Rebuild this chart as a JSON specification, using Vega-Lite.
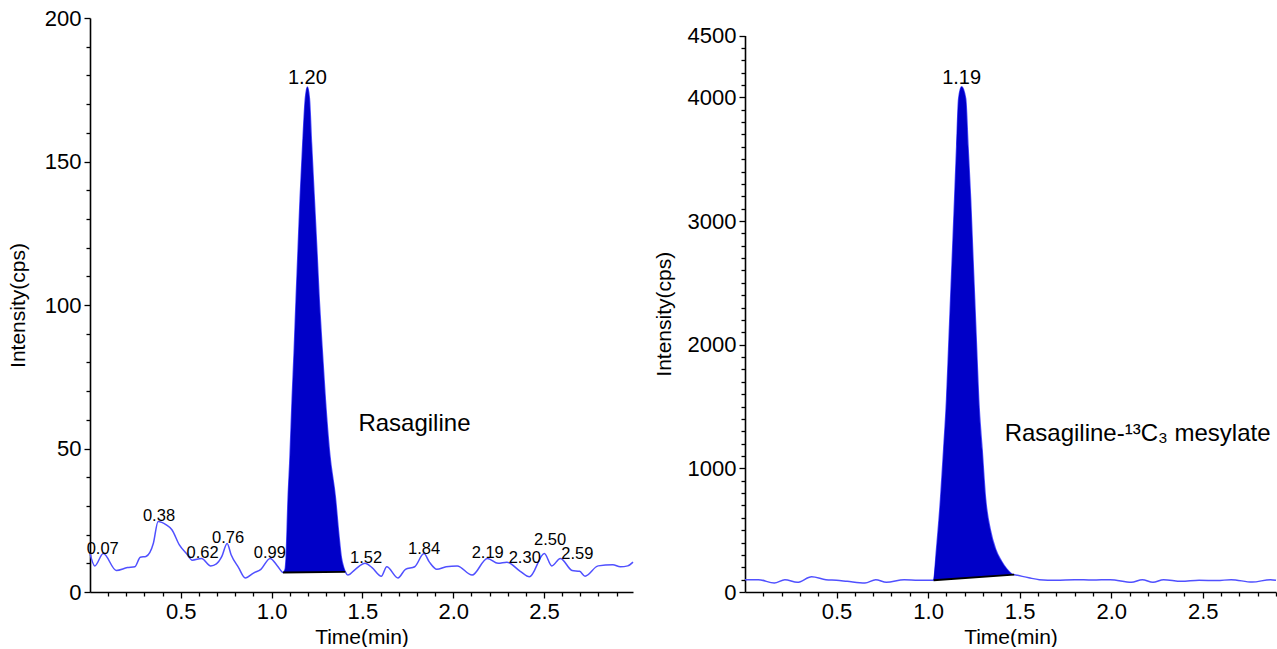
{
  "$schema": "https://vega.github.io/schema/vega-lite/v6.json",
  "padding": {"left": 7, "top": 7, "right": 0, "bottom": 0},
  "background": "white",
  "config": {
    "font": "Liberation Sans",
    "view": {"stroke": null},
    "concat": {"spacing": 17},
    "axis": {
      "grid": false,
      "domainColor": "black",
      "domainWidth": 1.6,
      "tickColor": "black",
      "tickWidth": 1.3,
      "tickCount": 200,
      "labelColor": "black",
      "titleColor": "black",
      "labelFont": "Liberation Sans",
      "titleFont": "Liberation Sans",
      "labelFontSize": 22,
      "titleFontSize": 21,
      "titleFontWeight": "normal",
      "labelPadding": 3,
      "labelOverlap": false,
      "labelFlush": false,
      "labelBound": false
    }
  },
  "datasets": {
    "left_trace": [
      {"t": 0.0, "v": 13.4}, {"t": 0.026, "v": 9.1}, {"t": 0.073, "v": 13.4}, {"t": 0.145, "v": 7.5},
      {"t": 0.206, "v": 8.5}, {"t": 0.247, "v": 8.8}, {"t": 0.277, "v": 12.1}, {"t": 0.308, "v": 12.4},
      {"t": 0.349, "v": 17.0}, {"t": 0.375, "v": 24.6}, {"t": 0.42, "v": 23.4}, {"t": 0.451, "v": 21.7},
      {"t": 0.492, "v": 16.4}, {"t": 0.532, "v": 13.3}, {"t": 0.563, "v": 11.1}, {"t": 0.614, "v": 11.7},
      {"t": 0.665, "v": 9.1}, {"t": 0.696, "v": 9.8}, {"t": 0.726, "v": 12.4}, {"t": 0.755, "v": 16.9},
      {"t": 0.777, "v": 13.0}, {"t": 0.818, "v": 8.5}, {"t": 0.855, "v": 4.9}, {"t": 0.9, "v": 6.6},
      {"t": 0.941, "v": 7.9}, {"t": 0.992, "v": 11.7}, {"t": 1.032, "v": 9.1}, {"t": 1.063, "v": 6.8},
      {"t": 1.075, "v": 8}, {"t": 1.08, "v": 12}, {"t": 1.091, "v": 33}, {"t": 1.1, "v": 45},
      {"t": 1.113, "v": 67}, {"t": 1.125, "v": 85}, {"t": 1.135, "v": 102}, {"t": 1.145, "v": 118},
      {"t": 1.157, "v": 137}, {"t": 1.17, "v": 154}, {"t": 1.186, "v": 172}, {"t": 1.197, "v": 176},
      {"t": 1.208, "v": 172}, {"t": 1.22, "v": 156}, {"t": 1.235, "v": 137}, {"t": 1.25, "v": 118},
      {"t": 1.262, "v": 102}, {"t": 1.28, "v": 83}, {"t": 1.296, "v": 67}, {"t": 1.32, "v": 48},
      {"t": 1.351, "v": 33}, {"t": 1.37, "v": 20}, {"t": 1.384, "v": 12}, {"t": 1.397, "v": 8.5},
      {"t": 1.406, "v": 7}, {"t": 1.42, "v": 5.9}, {"t": 1.461, "v": 7.9}, {"t": 1.515, "v": 10.0},
      {"t": 1.553, "v": 8.5}, {"t": 1.604, "v": 5.5}, {"t": 1.634, "v": 8.8}, {"t": 1.696, "v": 4.9},
      {"t": 1.737, "v": 7.9}, {"t": 1.788, "v": 8.8}, {"t": 1.839, "v": 13.4}, {"t": 1.869, "v": 10.4},
      {"t": 1.91, "v": 7.9}, {"t": 1.961, "v": 8.8}, {"t": 2.022, "v": 9.1}, {"t": 2.104, "v": 5.9},
      {"t": 2.188, "v": 11.7}, {"t": 2.247, "v": 10.0}, {"t": 2.295, "v": 10.4}, {"t": 2.369, "v": 7.2},
      {"t": 2.42, "v": 5.3}, {"t": 2.502, "v": 13.4}, {"t": 2.543, "v": 9.1}, {"t": 2.59, "v": 11.7},
      {"t": 2.655, "v": 7.5}, {"t": 2.696, "v": 7.2}, {"t": 2.726, "v": 5.5}, {"t": 2.798, "v": 9.1},
      {"t": 2.879, "v": 9.5}, {"t": 2.92, "v": 8.8}, {"t": 2.961, "v": 9.1}, {"t": 2.99, "v": 10.4}
    ],
    "left_peak": [
      {"t": 1.063, "v": 6.8, "base": 6.8}, {"t": 1.075, "v": 8, "base": 6.8}, {"t": 1.08, "v": 12, "base": 6.8},
      {"t": 1.091, "v": 33, "base": 6.8}, {"t": 1.1, "v": 45, "base": 6.8}, {"t": 1.113, "v": 67, "base": 6.8},
      {"t": 1.125, "v": 85, "base": 6.85}, {"t": 1.135, "v": 102, "base": 6.85}, {"t": 1.145, "v": 118, "base": 6.85},
      {"t": 1.157, "v": 137, "base": 6.85}, {"t": 1.17, "v": 154, "base": 6.9}, {"t": 1.186, "v": 172, "base": 6.9},
      {"t": 1.197, "v": 176, "base": 6.9}, {"t": 1.208, "v": 172, "base": 6.9}, {"t": 1.22, "v": 156, "base": 6.9},
      {"t": 1.235, "v": 137, "base": 6.9}, {"t": 1.25, "v": 118, "base": 6.9}, {"t": 1.262, "v": 102, "base": 6.9},
      {"t": 1.28, "v": 83, "base": 6.95}, {"t": 1.296, "v": 67, "base": 6.95}, {"t": 1.32, "v": 48, "base": 6.95},
      {"t": 1.351, "v": 33, "base": 6.95}, {"t": 1.37, "v": 20, "base": 7.0}, {"t": 1.384, "v": 12, "base": 7.0},
      {"t": 1.397, "v": 8.5, "base": 7.0}, {"t": 1.406, "v": 7, "base": 7.0}
    ],
    "left_baseline": [{"t": 1.063, "v": 6.8, "t2": 1.406, "v2": 7.0}],
    "left_labels": [
      {"t": 0.07, "v": 13.4, "label": "0.07"}, {"t": 0.38, "v": 24.6, "label": "0.38"},
      {"t": 0.62, "v": 11.7, "label": "0.62"}, {"t": 0.76, "v": 16.9, "label": "0.76"},
      {"t": 0.99, "v": 11.7, "label": "0.99"}, {"t": 1.52, "v": 10.0, "label": "1.52"},
      {"t": 1.84, "v": 13.4, "label": "1.84"}, {"t": 2.19, "v": 11.7, "label": "2.19"},
      {"t": 2.30, "v": 10.4, "label": "2.30"}, {"t": 2.50, "v": 13.4, "label": "2.50"},
      {"t": 2.59, "v": 11.7, "label": "2.59"}
    ],
    "left_main": [{"t": 1.197, "v": 176, "label": "1.20"}],
    "left_name": [{"t": 1.478, "v": 58.7, "label": "Rasagiline"}],
    "right_trace": [
      {"t": 0.0, "v": 100}, {"t": 0.073, "v": 100}, {"t": 0.16, "v": 72}, {"t": 0.218, "v": 100},
      {"t": 0.286, "v": 78}, {"t": 0.364, "v": 123}, {"t": 0.442, "v": 100}, {"t": 0.5, "v": 95},
      {"t": 0.558, "v": 86}, {"t": 0.655, "v": 72}, {"t": 0.714, "v": 100}, {"t": 0.772, "v": 78},
      {"t": 0.869, "v": 100}, {"t": 0.947, "v": 95}, {"t": 1.03, "v": 95},
      {"t": 1.046, "v": 344}, {"t": 1.068, "v": 749}, {"t": 1.085, "v": 1150}, {"t": 1.101, "v": 1559},
      {"t": 1.112, "v": 1960}, {"t": 1.123, "v": 2369}, {"t": 1.134, "v": 2770}, {"t": 1.145, "v": 3179},
      {"t": 1.156, "v": 3600}, {"t": 1.167, "v": 3989}, {"t": 1.183, "v": 4085}, {"t": 1.205, "v": 3989},
      {"t": 1.218, "v": 3600}, {"t": 1.232, "v": 3179}, {"t": 1.243, "v": 2770}, {"t": 1.254, "v": 2369},
      {"t": 1.265, "v": 1960}, {"t": 1.276, "v": 1559}, {"t": 1.295, "v": 1150}, {"t": 1.314, "v": 749},
      {"t": 1.34, "v": 500}, {"t": 1.369, "v": 344}, {"t": 1.4, "v": 250}, {"t": 1.43, "v": 185},
      {"t": 1.462, "v": 142}, {"t": 1.47, "v": 140},
      {"t": 1.55, "v": 115}, {"t": 1.607, "v": 100}, {"t": 1.7, "v": 95}, {"t": 1.8, "v": 100},
      {"t": 1.898, "v": 97}, {"t": 1.995, "v": 100}, {"t": 2.11, "v": 78}, {"t": 2.17, "v": 100},
      {"t": 2.228, "v": 78}, {"t": 2.286, "v": 100}, {"t": 2.383, "v": 86}, {"t": 2.48, "v": 95},
      {"t": 2.578, "v": 92}, {"t": 2.655, "v": 100}, {"t": 2.77, "v": 80}, {"t": 2.87, "v": 100},
      {"t": 2.9, "v": 95}
    ],
    "right_peak": [
      {"t": 1.03, "v": 95, "base": 95}, {"t": 1.046, "v": 344, "base": 96.6}, {"t": 1.068, "v": 749, "base": 98.9},
      {"t": 1.085, "v": 1150, "base": 100.6}, {"t": 1.101, "v": 1559, "base": 102.3}, {"t": 1.112, "v": 1960, "base": 103.4},
      {"t": 1.123, "v": 2369, "base": 104.5}, {"t": 1.134, "v": 2770, "base": 105.6}, {"t": 1.145, "v": 3179, "base": 106.8},
      {"t": 1.156, "v": 3600, "base": 107.9}, {"t": 1.167, "v": 3989, "base": 109}, {"t": 1.183, "v": 4085, "base": 110.7},
      {"t": 1.205, "v": 3989, "base": 112.9}, {"t": 1.218, "v": 3600, "base": 114.3}, {"t": 1.232, "v": 3179, "base": 115.7},
      {"t": 1.243, "v": 2770, "base": 116.8}, {"t": 1.254, "v": 2369, "base": 118}, {"t": 1.265, "v": 1960, "base": 119.1},
      {"t": 1.276, "v": 1559, "base": 120.2}, {"t": 1.295, "v": 1150, "base": 122.2}, {"t": 1.314, "v": 749, "base": 124.1},
      {"t": 1.34, "v": 500, "base": 126.8}, {"t": 1.369, "v": 344, "base": 129.8}, {"t": 1.4, "v": 250, "base": 133},
      {"t": 1.43, "v": 185, "base": 136}, {"t": 1.462, "v": 142, "base": 139.4}, {"t": 1.47, "v": 140, "base": 140}
    ],
    "right_baseline": [{"t": 1.03, "v": 95, "t2": 1.47, "v2": 140}],
    "right_main": [{"t": 1.183, "v": 4085, "label": "1.19"}],
    "right_name": [{"t": 1.418, "v": 1276, "label": "Rasagiline-¹³C₃ mesylate"}]
  },
  "hconcat": [
    {
      "width": 543,
      "height": 574,
      "layer": [
        {
          "data": {"name": "left_trace"},
          "mark": {"type": "line", "interpolate": "monotone", "color": "#5050ff", "strokeWidth": 1.5},
          "encoding": {
            "x": {
              "field": "t", "type": "quantitative",
              "scale": {"domain": [0, 2.99], "nice": false, "zero": false},
              "axis": {
                "title": "Time(min)",
                "values": [0.1,0.2,0.3,0.4,0.5,0.6,0.7,0.8,0.9,1.0,1.1,1.2,1.3,1.4,1.5,1.6,1.7,1.8,1.9,2.0,2.1,2.2,2.3,2.4,2.5,2.6,2.7,2.8,2.9],
                "tickCount": 200,
                "labelExpr": "round(datum.value*10) % 5 === 0 ? format(datum.value, '.1f') : ''",
                "labelOverlap": false,
                "tickSize": {"condition": {"test": "round(datum.value*10) % 5 === 0", "value": 6}, "value": 4},
                "titlePadding": 4
              }
            },
            "y": {
              "field": "v", "type": "quantitative",
              "scale": {"domain": [0, 200], "nice": false},
              "axis": {
                "title": "Intensity(cps)",
                "values": [0,10,20,30,40,50,60,70,80,90,100,110,120,130,140,150,160,170,180,190,200],
                "tickCount": 200,
                "labelExpr": "datum.value % 50 === 0 ? format(datum.value, 'd') : ''",
                "labelOverlap": false,
                "tickSize": {"condition": {"test": "datum.value % 50 === 0", "value": 6}, "value": 4},
                "titlePadding": 16
              }
            }
          }
        },
        {
          "data": {"name": "left_peak"},
          "mark": {"type": "area", "interpolate": "monotone", "color": "#0000c8", "opacity": 1},
          "encoding": {
            "x": {"field": "t", "type": "quantitative"},
            "y": {"field": "v", "type": "quantitative"},
            "y2": {"field": "base"}
          }
        },
        {
          "data": {"name": "left_baseline"},
          "mark": {"type": "rule", "color": "black", "strokeWidth": 1.8},
          "encoding": {
            "x": {"field": "t", "type": "quantitative"},
            "y": {"field": "v", "type": "quantitative"},
            "x2": {"field": "t2"},
            "y2": {"field": "v2"}
          }
        },
        {
          "data": {"name": "left_labels"},
          "transform": [{"filter": "datum.label !== '2.30' && datum.label !== '2.59' && datum.label !== '2.50'"}],
          "mark": {"type": "text", "fontSize": 16.5, "baseline": "bottom", "dy": 3, "color": "black"},
          "encoding": {
            "x": {"field": "t", "type": "quantitative"},
            "y": {"field": "v", "type": "quantitative"},
            "text": {"field": "label"}
          }
        },
        {
          "data": {"name": "left_labels"},
          "transform": [{"filter": "datum.label === '2.50'"}],
          "mark": {"type": "text", "fontSize": 16.5, "baseline": "bottom", "dx": 6, "dy": -6, "color": "black"},
          "encoding": {
            "x": {"field": "t", "type": "quantitative"},
            "y": {"field": "v", "type": "quantitative"},
            "text": {"field": "label"}
          }
        },
        {
          "data": {"name": "left_labels"},
          "transform": [{"filter": "datum.label === '2.30' || datum.label === '2.59'"}],
          "mark": {"type": "text", "fontSize": 16.5, "baseline": "bottom", "align": "left", "dx": 1, "dy": 4, "color": "black"},
          "encoding": {
            "x": {"field": "t", "type": "quantitative"},
            "y": {"field": "v", "type": "quantitative"},
            "text": {"field": "label"}
          }
        },
        {
          "data": {"name": "left_main"},
          "mark": {"type": "text", "fontSize": 20, "baseline": "bottom", "dy": 1, "color": "black"},
          "encoding": {
            "x": {"field": "t", "type": "quantitative"},
            "y": {"field": "v", "type": "quantitative"},
            "text": {"field": "label"}
          }
        },
        {
          "data": {"name": "left_name"},
          "mark": {"type": "text", "fontSize": 24, "align": "left", "baseline": "middle", "color": "black"},
          "encoding": {
            "x": {"field": "t", "type": "quantitative"},
            "y": {"field": "v", "type": "quantitative"},
            "text": {"field": "label"}
          }
        }
      ]
    },
    {
      "width": 531,
      "height": 574,
      "layer": [
        {
          "data": {"name": "right_trace"},
          "mark": {"type": "line", "interpolate": "monotone", "color": "#5050ff", "strokeWidth": 1.5},
          "encoding": {
            "x": {
              "field": "t", "type": "quantitative",
              "scale": {"domain": [0, 2.9], "nice": false, "zero": false},
              "axis": {
                "title": "Time(min)",
                "values": [0.1,0.2,0.3,0.4,0.5,0.6,0.7,0.8,0.9,1.0,1.1,1.2,1.3,1.4,1.5,1.6,1.7,1.8,1.9,2.0,2.1,2.2,2.3,2.4,2.5,2.6,2.7,2.8,2.9],
                "tickCount": 200,
                "labelExpr": "round(datum.value*10) % 5 === 0 ? format(datum.value, '.1f') : ''",
                "labelOverlap": false,
                "tickSize": {"condition": {"test": "round(datum.value*10) % 5 === 0", "value": 6}, "value": 4},
                "titlePadding": 4
              }
            },
            "y": {
              "field": "v", "type": "quantitative",
              "scale": {"domain": [0, 4500], "nice": false, "range": [574, 17.5]},
              "axis": {
                "title": "Intensity(cps)",
                "values": [0,100,200,300,400,500,600,700,800,900,1000,1100,1200,1300,1400,1500,1600,1700,1800,1900,2000,2100,2200,2300,2400,2500,2600,2700,2800,2900,3000,3100,3200,3300,3400,3500,3600,3700,3800,3900,4000,4100,4200,4300,4400,4500],
                "tickCount": 200,
                "labelExpr": "(datum.value % 1000 === 0 || datum.value === 4500) ? format(datum.value, 'd') : ''",
                "labelOverlap": false,
                "tickSize": {"condition": {"test": "datum.value % 1000 === 0 || datum.value === 4500", "value": 6}, "value": 4},
                "titlePadding": 13
              }
            }
          }
        },
        {
          "data": {"name": "right_peak"},
          "mark": {"type": "area", "interpolate": "monotone", "color": "#0000c8", "opacity": 1},
          "encoding": {
            "x": {"field": "t", "type": "quantitative"},
            "y": {"field": "v", "type": "quantitative"},
            "y2": {"field": "base"}
          }
        },
        {
          "data": {"name": "right_baseline"},
          "mark": {"type": "rule", "color": "black", "strokeWidth": 1.8},
          "encoding": {
            "x": {"field": "t", "type": "quantitative"},
            "y": {"field": "v", "type": "quantitative"},
            "x2": {"field": "t2"},
            "y2": {"field": "v2"}
          }
        },
        {
          "data": {"name": "right_main"},
          "mark": {"type": "text", "fontSize": 20, "baseline": "bottom", "dy": 1, "color": "black"},
          "encoding": {
            "x": {"field": "t", "type": "quantitative"},
            "y": {"field": "v", "type": "quantitative"},
            "text": {"field": "label"}
          }
        },
        {
          "data": {"name": "right_name"},
          "mark": {"type": "text", "fontSize": 24, "align": "left", "baseline": "middle", "color": "black"},
          "encoding": {
            "x": {"field": "t", "type": "quantitative"},
            "y": {"field": "v", "type": "quantitative"},
            "text": {"field": "label"}
          }
        }
      ]
    }
  ]
}
